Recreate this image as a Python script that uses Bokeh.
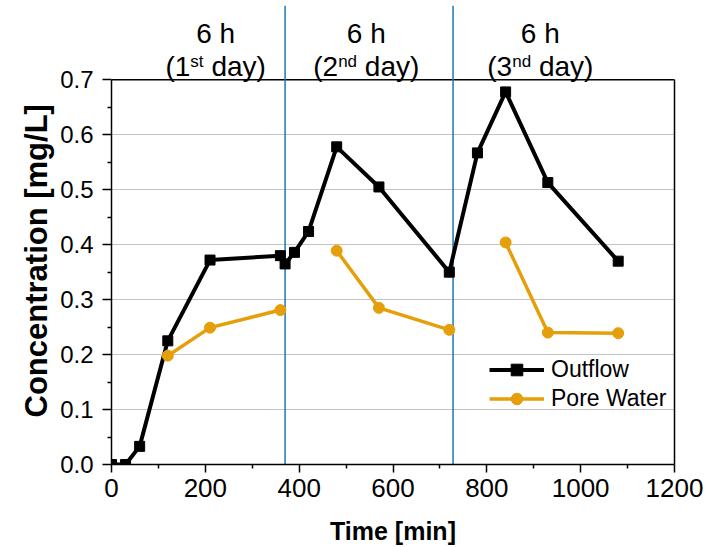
from bokeh.plotting import figure
from bokeh.models import (Range1d, FixedTicker, LinearAxis, Legend, LegendItem, Label, Title,
                          NumeralTickFormatter)
from bokeh.embed import file_html
from bokeh.resources import INLINE

# ---- data ----
outflow_time = [0, 30, 60, 120, 210, 360, 370, 390, 420, 480, 570, 720, 780, 840, 930, 1080]
outflow_conc = [0.0, 0.0, 0.033, 0.225, 0.372, 0.380, 0.365, 0.386, 0.424, 0.578, 0.505, 0.350,
                0.567, 0.678, 0.513, 0.370]
pore_time = [120, 210, 360, 480, 570, 720, 840, 930, 1080]
pore_conc = [0.198, 0.249, 0.281, 0.389, 0.285, 0.245, 0.404, 0.240, 0.239]
pore_day = [1, 1, 1, 2, 2, 2, 3, 3, 3]
day_boundaries = [370, 728]
period_centers = [222, 543, 914]
period_top = ["6 h", "6 h", "6 h"]
period_pre = ["(1", "(2", "(3"]
period_sup = ["st", "nd", "nd"]
period_post = ["day)", "day)", "day)"]
x_ticks = [0, 200, 400, 600, 800, 1000, 1200]
x_minor = [100, 300, 500, 700, 900, 1100]
y_ticks = [0.0, 0.1, 0.2, 0.3, 0.4, 0.5, 0.6, 0.7]
y_minor = [0.05, 0.15, 0.25, 0.35, 0.45, 0.55, 0.65]
x_title = "Time [min]"
y_title = "Concentration [mg/L]"

FONT = "Liberation Sans"
BLACK = "#000000"
ORANGE = "#E59F0A"
BLUE = "#1F77B4"
YMAX = 0.7
YTOP = 0.8352
PX_PER_Y = 549.6

p = figure(width=720, height=547, output_backend="svg", toolbar_location=None,
           x_range=Range1d(0, 1200), y_range=Range1d(0, YTOP),
           min_border_left=111, min_border_right=46, min_border_top=5, min_border_bottom=83)
p.outline_line_color = None
p.background_fill_color = "white"
p.xgrid.visible = False
p.ygrid.ticker = FixedTicker(ticks=y_ticks[1:-1])
p.ygrid.grid_line_color = "#C4C4C4"
p.ygrid.grid_line_width = 1

# axes
xa = p.xaxis[0]
xa.ticker = FixedTicker(ticks=x_ticks, minor_ticks=x_minor)
xa.axis_label = x_title
ya = p.yaxis[0]
ya.ticker = FixedTicker(ticks=y_ticks, minor_ticks=y_minor)
ya.formatter = NumeralTickFormatter(format="0.0")
ya.bounds = (0, YMAX)
for ax, size, tick in ((xa, "26px", 8), (ya, "24px", 9)):
    ax.axis_line_width = 1.5
    ax.axis_line_color = BLACK
    ax.major_tick_line_width = 1.5
    ax.minor_tick_line_width = 1.5
    ax.major_tick_line_color = BLACK
    ax.minor_tick_line_color = BLACK
    ax.major_tick_in = 0
    ax.minor_tick_in = 0
    ax.major_tick_out = tick
    ax.minor_tick_out = 4
    ax.major_label_text_font = FONT
    ax.major_label_text_font_size = size
    ax.major_label_text_color = BLACK
    ax.axis_label_text_font = FONT
    ax.axis_label_text_font_style = "bold"
    ax.axis_label_text_color = BLACK
xa.axis_label_text_font_size = "25px"
xa.major_label_standoff = 6
ya.major_label_standoff = 9
xa.axis_label_standoff = 17

# y title as a side title, anchored from the bottom of the frame
ytitle = Title(text=y_title, align="left", offset=47, standoff=7, vertical_align="bottom",
               text_font=FONT, text_font_style="bold", text_font_size="31px", text_color=BLACK)
p.add_layout(ytitle, "left")

right = LinearAxis(bounds=(0, YMAX), ticker=FixedTicker(ticks=[]), axis_line_width=1.5,
                   major_label_text_font_size="0px", major_tick_line_color=None,
                   minor_tick_line_color=None, major_label_standoff=0)
p.add_layout(right, "right")

# top border of the box
p.segment(x0=[0], y0=[YMAX], x1=[1200], y1=[YMAX], line_color=BLACK, line_width=1.5)

# day boundaries
p.segment(x0=day_boundaries, y0=[0] * len(day_boundaries), x1=day_boundaries,
          y1=[YTOP] * len(day_boundaries), line_color=BLUE, line_width=1.5)

# outflow
lo = p.line(outflow_time, outflow_conc, line_color=BLACK, line_width=4)
so = p.scatter(outflow_time, outflow_conc, marker="square", size=10, fill_color=BLACK, line_color=BLACK)

# pore water, one segment per day
xs, ys = [], []
for d in sorted(set(pore_day)):
    xs.append([t for t, dd in zip(pore_time, pore_day) if dd == d])
    ys.append([c for c, dd in zip(pore_conc, pore_day) if dd == d])
lp = p.multi_line(xs, ys, line_color=ORANGE, line_width=3.5)
sp = p.scatter(pore_time, pore_conc, marker="circle", size=11, fill_color=ORANGE, line_color=ORANGE)

legend = Legend(items=[LegendItem(label="Outflow", renderers=[lo, so]),
                       LegendItem(label="Pore Water", renderers=[lp, sp])],
                location=(378, 51), padding=0, margin=0, spacing=0,
                glyph_width=55, glyph_height=29, label_height=29, label_standoff=7,
                label_text_font=FONT, label_text_font_size="23px", label_text_color=BLACK,
                border_line_color=None, background_fill_alpha=0)
p.add_layout(legend)

# period annotations
S = 28
s = 17
W = {"(": .333, ")": .333, " ": .278, "1": .556, "2": .556, "3": .556, "d": .556, "a": .556,
     "y": .5, "s": .5, "t": .278, "n": .556, "h": .556, "6": .556}


def tw(txt, size):
    return sum(W.get(c, .556) for c in txt) * size


def yat(px_from_top):
    return YMAX + (79.3 - px_from_top) / PX_PER_Y


for cx, t6, pre, sup, post in zip(period_centers, period_top, period_pre, period_sup, period_post):
    p.add_layout(Label(x=cx, y=yat(33), text=t6, text_align="center", text_baseline="alphabetic",
                       text_font=FONT, text_font_size=f"{S}px", text_color=BLACK))
    wp, ws, wsp, wq = tw(pre, S), tw(sup, s), tw(" ", S), tw(post, S)
    x0 = -(wp + ws + wsp + wq) / 2
    p.add_layout(Label(x=cx, y=yat(66), x_offset=x0, text=pre, text_align="left",
                       text_baseline="alphabetic", text_font=FONT, text_font_size=f"{S}px",
                       text_color=BLACK))
    p.add_layout(Label(x=cx, y=yat(61), x_offset=x0 + wp, text=sup, text_align="left",
                       text_baseline="alphabetic", text_font=FONT, text_font_size=f"{s}px",
                       text_color=BLACK))
    p.add_layout(Label(x=cx, y=yat(66), x_offset=x0 + wp + ws + wsp, text=post, text_align="left",
                       text_baseline="alphabetic", text_font=FONT, text_font_size=f"{S}px",
                       text_color=BLACK))

open("out.html", "w").write(file_html(p, INLINE))
